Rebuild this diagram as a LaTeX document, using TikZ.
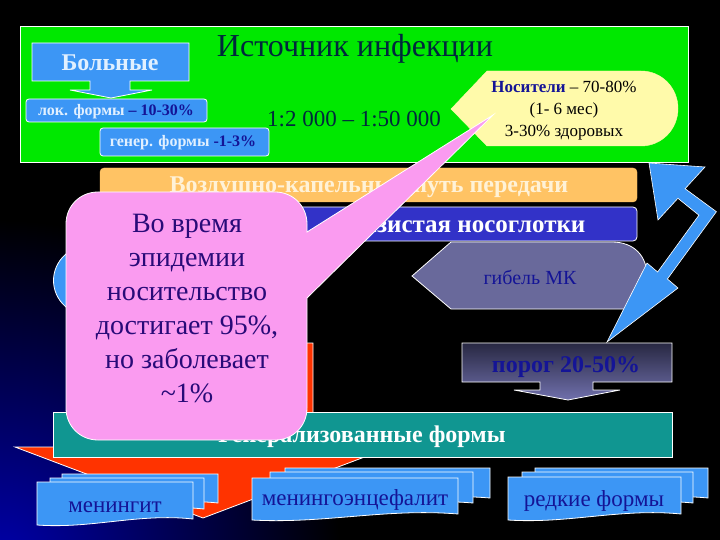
\documentclass[tikz,border=0pt]{standalone}
\usepackage{fontspec}
\setmainfont{Liberation Serif}
\usetikzlibrary{calc}
\definecolor{bgblue}{RGB}{0,0,170}
\definecolor{srcgreen}{RGB}{0,232,0}
\definecolor{titlecol}{RGB}{0,40,60}
\definecolor{boxblue}{RGB}{60,150,245}
\definecolor{navytext}{RGB}{20,20,150}
\definecolor{lighttext}{RGB}{225,240,255}
\definecolor{yellowfill}{RGB}{255,250,170}
\definecolor{orangefill}{RGB}{255,195,100}
\definecolor{creamtext}{RGB}{255,242,215}
\definecolor{slizblue}{RGB}{50,50,200}
\definecolor{slatefill}{RGB}{105,105,155}
\definecolor{redfill}{RGB}{255,51,0}
\definecolor{tealfill}{RGB}{16,150,145}
\definecolor{pinkfill}{RGB}{250,155,240}
\definecolor{pinktext}{RGB}{40,10,120}
\definecolor{porogtop}{RGB}{40,40,66}
\definecolor{porogbot}{RGB}{112,112,172}
\tikzset{
  wb/.style={draw=white, line width=0.8pt},
  docsty/.style={wb, fill=boxblue},
  fs/.style={font=\fontsize{#1}{#1}\selectfont},
  fsb/.style={font=\fontsize{#1}{#1}\selectfont\bfseries},
}
\newcommand\mydoc[4]{%
  \filldraw[docsty] (#1,#2) -- (#3,#2) -- (#3,#4-4)
    .. controls (#1*0.35+#3*0.65,#4-10) and (#1*0.65+#3*0.35,#4+6) .. (#1,#4+2) -- cycle;}
\begin{document}
\begin{tikzpicture}[x=1pt,y=-1pt, every node/.style={inner sep=0pt, outer sep=0pt}]
\useasboundingbox (0,0) rectangle (720,540);
\fill[black] (0,0) rectangle (720,540);
\begin{scope}
  \clip (0,0) rectangle (720,540);
  \shade[inner color=bgblue, outer color=black] (0,560) circle[radius=340];
\end{scope}

% source of infection panel
\filldraw[fill=srcgreen, wb] (20,26) rectangle (688,162);
\node[fs=32, text=titlecol, anchor=base] (title) at (355,57) {Источник инфекции};

\filldraw[fill=boxblue, wb] (32,43) -- (189,43) -- (189,81) -- (130,81) -- (130,90) -- (152,90)
  -- (111,98) -- (70,90) -- (90,90) -- (90,81) -- (32,81) -- cycle;
\node[fsb=24, text=lighttext, anchor=base] (bol) at (110,71) {Больные};

\filldraw[fill=boxblue, wb, rounded corners=3] (26,99) rectangle (207,122);
\node[fsb=16, anchor=base] (lok) at (116,116)
  {\textcolor{lighttext}{лок. формы} \textcolor{navytext}{– 10-30\%}};
\filldraw[fill=boxblue, wb, rounded corners=3] (100,128) rectangle (269,156);
\node[fsb=16, anchor=base] (gen) at (183,147)
  {\textcolor{lighttext}{генер. формы} \textcolor{navytext}{-1-3\%}};

\node[fs=23, text=titlecol, anchor=base] (ratio) at (354,127) {1:2 000 – 1:50 000};

\filldraw[fill=yellowfill, draw=yellowfill] (451,109) -- (487,71) -- (641,71)
  .. controls (662,71) and (678,88) .. (678,108.5)
  .. controls (678,129) and (662,146) .. (641,146) -- (487,146) -- cycle;
\node[font=\fontsize{17}{22}\selectfont, align=center] (nos) at (564,111)
  {\textcolor{navytext}{\bfseries Носители} – 70-80\%\\(1- 6 мес)\\3-30\% здоровых};

% transmission bars
\filldraw[fill=orangefill, draw=orangefill, rounded corners=4] (100,168) rectangle (637,202);
\node[fsb=24, text=creamtext, anchor=base] (vozd) at (369,193) {Воздушно-капельный путь передачи};
\filldraw[fill=slizblue, wb, rounded corners=4] (100,207) rectangle (637,241);
\node[fsb=25, text=white, anchor=base] (sliz) at (458,233) {Слизистая носоглотки};

\filldraw[fill=boxblue, wb] (100,243) -- (300,243) -- (300,318) -- (100,318)
  .. controls (38,318) and (38,243) .. (100,243) -- cycle;

\filldraw[fill=slatefill, wb] (412,276) -- (451,242) -- (612,242)
  .. controls (634,242) and (647,256) .. (647,276) -- (647,309) -- (451,309) -- cycle;
\node[fs=20, text=navytext, anchor=base] (gib) at (530,284) {гибель МК};

% generalised forms
\filldraw[fill=redfill, wb] (93,343) -- (313,343) -- (313,447) -- (391,447) -- (203,518)
  -- (15,447) -- (93,447) -- cycle;
\filldraw[fill=tealfill, wb] (53,412) rectangle (672,457);
\node[fsb=24, text=white, anchor=base] (genf) at (362,442) {Генерализованные формы};

\filldraw[top color=porogtop, bottom color=porogbot, wb] (462,343) -- (672,343) -- (672,382)
  -- (593,382) -- (593,390) -- (620,390) -- (568,400) -- (514,390) -- (540,390) -- (540,382)
  -- (462,382) -- cycle;
\node[fsb=24, text=navytext, anchor=base] (porog) at (566,372) {порог 20-50\%};

% double arrow
\filldraw[fill=boxblue, draw=white, line width=0.6pt, line join=miter]
  (649,163) -- (705,167) -- (685.1,188.7) -- (716.4,211.7) -- (667.4,279.0) -- (678,288)
  -- (607,342) -- (647,263) -- (657.6,272.0) -- (698.9,215.2) -- (677.9,198.3) -- (658,220) -- cycle;

% clinical forms
\mydoc{62}{474}{218}{507}
\mydoc{50}{478}{204}{513}
\mydoc{37}{482}{193}{523}
\node[fs=23, text=navytext, anchor=base] (men) at (115,512) {менингит};
\mydoc{285}{468}{490}{502}
\mydoc{270}{472}{473}{507}
\mydoc{252}{478}{458}{518}
\node[fs=23, text=navytext, anchor=base] (menenc) at (355,505) {менингоэнцефалит};
\mydoc{535}{468}{708}{502}
\mydoc{522}{472}{693}{507}
\mydoc{508}{477}{681}{518}
\node[fs=23, text=navytext, anchor=base] (rare) at (594,506) {редкие формы};

% epidemic callout
\filldraw[fill=pinkfill, wb]
  (98,192) -- (275,192) .. controls (293,192) and (307,206) .. (307,224) -- (307,232)
  -- (493,115) -- (307,298) -- (307,408) .. controls (307,426) and (293,440) .. (275,440)
  -- (98,440) .. controls (80,440) and (66,426) .. (66,408) -- (66,224)
  .. controls (66,206) and (80,192) .. (98,192) -- cycle;
\node[font=\fontsize{28}{34}\selectfont, text=pinktext, align=center] (epi) at (187,309)
  {Во время\\эпидемии\\носительство\\достигает 95\%,\\но заболевает\\\textasciitilde1\%};
\end{tikzpicture}
\end{document}
